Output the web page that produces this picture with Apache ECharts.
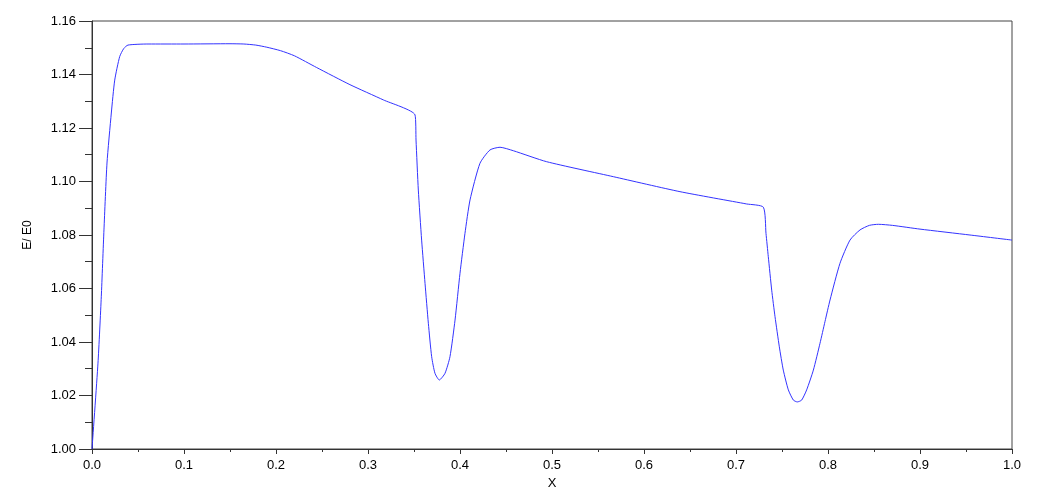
<!DOCTYPE html>
<html>
<head>
<meta charset="utf-8">
<script src="https://cdn.jsdelivr.net/npm/echarts@6/dist/echarts.min.js"></script>
<style>
html,body{margin:0;padding:0;background:#fff;}
#chart{width:1057px;height:495px;}
</style>
</head>
<body>
<div id="chart"></div>
<script>
var xValues = [0, 0.0065, 0.0101, 0.013, 0.0163, 0.021, 0.0247, 0.0301, 0.0345, 0.0391, 0.0609, 0.1, 0.15, 0.165, 0.178, 0.19, 0.205, 0.22, 0.2442, 0.2804, 0.3167, 0.3511,
  0.3522, 0.3547, 0.3583, 0.362, 0.3656, 0.3692, 0.3728, 0.3775, 0.3837, 0.3891, 0.3946, 0.4, 0.4054, 0.4109, 0.4217, 0.4326, 0.4435,
  0.458, 0.4942, 0.5667, 0.6391, 0.7116, 0.7297,
  0.7326, 0.7351, 0.7388, 0.7424, 0.7471, 0.7514, 0.7569, 0.7623, 0.7666, 0.7714, 0.7768, 0.7841, 0.7913, 0.7967, 0.8022, 0.813, 0.8239, 0.8348,
  0.8450, 0.8547, 0.87, 0.9, 0.9543, 1.0];
var yValues = [1.0, 1.0321, 1.0569, 1.0819, 1.1069, 1.1256, 1.1379, 1.1467, 1.1497, 1.151, 1.1514, 1.1514, 1.1515, 1.1514, 1.1510, 1.1502, 1.1489, 1.1470, 1.1426, 1.1362, 1.1305, 1.1249,
  1.1155, 1.0968, 1.0781, 1.0619, 1.047, 1.0345, 1.0283, 1.0258, 1.0283, 1.0345, 1.0482, 1.0657, 1.0806, 1.0931, 1.1068, 1.1118, 1.1128,
  1.1115, 1.1074, 1.1018, 1.0962, 1.0916, 1.0904,
  1.0806, 1.0719, 1.0594, 1.0495, 1.0382, 1.0295, 1.0221, 1.0183, 1.0176, 1.0183, 1.0221, 1.0295, 1.0395, 1.0476, 1.0557, 1.0694, 1.0781, 1.0819,
  1.0836, 1.084, 1.0836, 1.0822, 1.08, 1.0781];
var xAxisTitle = 'X';
var yAxisTitle = 'E/ E0';

var points = xValues.map(function (x, i) { return [x, yValues[i]]; });
var font = 'Liberation Sans, Arial, Helvetica, sans-serif';
var chart = echarts.init(document.getElementById('chart'));
chart.setOption({
  animation: false,
  backgroundColor: '#fff',
  grid: { left: 92, right: 45, top: 21, bottom: 46, show: true, borderColor: '#444', borderWidth: 1 },
  xAxis: {
    type: 'value', min: 0, max: 1, interval: 0.1,
    name: xAxisTitle, nameLocation: 'middle', nameGap: 27,
    nameTextStyle: { color: '#000', fontSize: 13, fontFamily: font },
    axisLine: { show: true, lineStyle: { color: '#333', width: 1 } },
    axisTick: { show: true, length: 5, lineStyle: { color: '#333' } },
    minorTick: { show: true, splitNumber: 2, length: 3, lineStyle: { color: '#333' } },
    splitLine: { show: false },
    axisLabel: { color: '#000', fontSize: 13, fontFamily: font, margin: 10,
      formatter: function (v) { return v.toFixed(1); } }
  },
  yAxis: {
    type: 'value', min: 1.0, max: 1.16, interval: 0.02,
    name: yAxisTitle, nameLocation: 'middle', nameGap: 58, nameRotate: 90,
    nameTextStyle: { color: '#000', fontSize: 12, fontFamily: font },
    axisLine: { show: true, lineStyle: { color: '#333', width: 1 } },
    axisTick: { show: true, length: 13, lineStyle: { color: '#333' } },
    minorTick: { show: true, splitNumber: 2, length: 7, lineStyle: { color: '#333' } },
    splitLine: { show: false },
    axisLabel: { color: '#000', fontSize: 13, fontFamily: font, margin: 16,
      formatter: function (v) { return v.toFixed(2); } }
  },
  series: [{
    type: 'line', data: points, showSymbol: false, smooth: 0.2,
    lineStyle: { color: '#3333ff', width: 1 }
  }]
});
</script>
</body>
</html>
